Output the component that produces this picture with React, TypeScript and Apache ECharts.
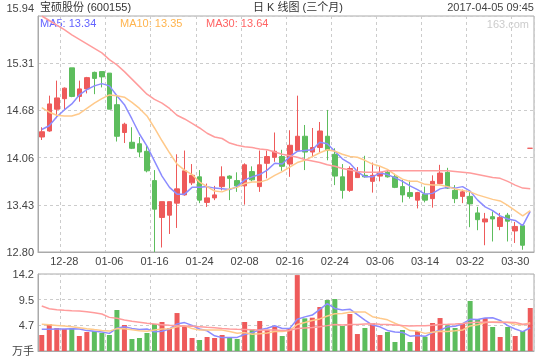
import React, { useEffect, useRef } from 'react';
import * as echarts from 'echarts';

const stockTitle = '宝硕股份 (600155)';
const chartTitle = '日 K 线图 (三个月)';
const timeStamp = '2017-04-05 09:45';
const watermark = '163.com';

const dates = [
  '12-23', '12-26', '12-27', '12-28', '12-29', '12-30', '01-03', '01-04', '01-05', '01-06',
  '01-09', '01-10', '01-11', '01-12', '01-13', '01-16', '01-17', '01-18', '01-19', '01-20',
  '01-23', '01-24', '01-25', '01-26', '02-03', '02-06', '02-07', '02-08', '02-09', '02-10',
  '02-13', '02-14', '02-15', '02-16', '02-17', '02-20', '02-21', '02-22', '02-23', '02-24',
  '02-27', '02-28', '03-01', '03-02', '03-03', '03-06', '03-07', '03-08', '03-09', '03-10',
  '03-13', '03-14', '03-15', '03-16', '03-17', '03-20', '03-21', '03-22', '03-23', '03-24',
  '03-27', '03-28', '03-29', '03-30', '03-31', '04-05',
];

const opens = [
  14.33, 14.41, 14.70, 14.84, 15.25, 14.87, 14.97, 15.19, 15.20, 15.18,
  14.76, 14.39, 14.26, 14.24, 14.14, 13.75, 13.26, 13.29, 13.45, 13.56,
  13.72, 13.80, 13.46, 13.52, 13.67, 13.81, 13.75, 13.68, 13.87, 13.67,
  13.98, 14.06, 14.07, 13.97, 14.15, 14.34, 14.13, 14.19, 14.34, 14.10,
  13.80, 13.62, 13.79, 13.82, 13.74, 13.81, 13.86, 13.80, 13.67, 13.59,
  13.49, 13.57, 13.51, 13.71, 13.86, 13.62, 13.54, 13.54, 13.32, 13.20,
  13.27, 13.14, 13.29, 13.08, 13.15, 14.18,
];
const closes = [
  14.40, 14.77, 14.85, 14.98, 14.87, 14.97, 15.12, 15.11, 15.13, 14.70,
  14.34, 14.50, 14.18, 14.13, 13.88, 13.37, 13.47, 13.47, 13.64, 13.88,
  13.82, 13.49, 13.52, 13.56, 13.80, 13.78, 13.68, 13.96, 13.76, 13.96,
  14.07, 14.14, 13.94, 14.22, 14.34, 14.13, 14.19, 14.41, 14.15, 13.81,
  13.62, 13.91, 13.86, 13.80, 13.82, 13.86, 13.80, 13.66, 13.56, 13.54,
  13.59, 13.49, 13.74, 13.85, 13.65, 13.51, 13.60, 13.44, 13.23, 13.24,
  13.24, 13.26, 13.21, 13.14, 12.89, 14.18,
];
const lows = [
  14.29, 14.40, 14.58, 14.70, 14.86, 14.80, 14.91, 14.90, 14.99, 14.70,
  14.27, 14.25, 14.17, 14.06, 13.86, 12.80, 12.86, 13.04, 13.12, 13.55,
  13.69, 13.45, 13.40, 13.49, 13.62, 13.49, 13.60, 13.43, 13.74, 13.60,
  13.78, 14.00, 13.88, 13.80, 14.15, 13.89, 14.06, 14.13, 14.02, 13.69,
  13.51, 13.60, 13.79, 13.79, 13.59, 13.74, 13.79, 13.65, 13.46, 13.51,
  13.38, 13.46, 13.39, 13.70, 13.64, 13.45, 13.45, 13.13, 13.09, 12.89,
  12.94, 13.09, 12.94, 12.92, 12.83, 14.18,
];
const highs = [
  14.46, 14.88, 15.08, 14.99, 15.25, 15.08, 15.13, 15.20, 15.20, 15.18,
  14.89, 14.52, 14.46, 14.33, 14.22, 13.89, 13.47, 13.47, 14.10, 14.15,
  13.97, 13.89, 13.71, 13.68, 13.94, 13.82, 13.86, 13.98, 13.94, 14.15,
  14.15, 14.39, 14.16, 14.42, 14.88, 14.49, 14.45, 14.53, 14.69, 14.18,
  13.97, 13.94, 13.93, 14.08, 13.99, 13.94, 13.89, 13.84, 13.76, 13.75,
  13.60, 13.67, 13.82, 13.96, 13.92, 13.69, 13.63, 13.60, 13.40, 13.32,
  13.34, 13.32, 13.32, 13.20, 13.16, 14.18,
];

const ma5 = [
  14.43, 14.48, 14.60, 14.69, 14.77, 14.89, 14.96, 15.01, 15.04, 15.01,
  14.88, 14.76, 14.57, 14.37, 14.21, 14.01, 13.81, 13.66, 13.57, 13.57,
  13.66, 13.66, 13.67, 13.65, 13.64, 13.63, 13.67, 13.76, 13.80, 13.83,
  13.89, 13.98, 13.97, 14.07, 14.14, 14.15, 14.16, 14.26, 14.24, 14.14,
  14.04, 13.98, 13.87, 13.80, 13.80, 13.85, 13.83, 13.79, 13.74, 13.68,
  13.63, 13.57, 13.58, 13.64, 13.66, 13.65, 13.67, 13.61, 13.49, 13.40,
  13.35, 13.28, 13.24, 13.22, 13.15, 13.34,
];
const ma10 = [
  14.72, 14.66, 14.62, 14.61, 14.61, 14.64, 14.71, 14.78, 14.84, 14.89,
  14.88, 14.86, 14.79, 14.71, 14.61, 14.45, 14.28, 14.12, 13.97, 13.89,
  13.83, 13.73, 13.67, 13.61, 13.60, 13.64, 13.66, 13.71, 13.73, 13.73,
  13.76, 13.82, 13.87, 13.93, 13.99, 14.02, 14.07, 14.12, 14.16, 14.14,
  14.10, 14.07, 14.06, 14.02, 13.97, 13.94, 13.90, 13.83, 13.77, 13.74,
  13.74, 13.70, 13.69, 13.69, 13.67, 13.64, 13.62, 13.60, 13.56, 13.53,
  13.50, 13.48, 13.42, 13.35, 13.28, 13.35,
];
const ma30 = [
  15.94, 15.88, 15.82, 15.76, 15.69, 15.63, 15.57, 15.51, 15.45, 15.36,
  15.29, 15.20, 15.10, 15.00, 14.90, 14.83, 14.78, 14.71, 14.62, 14.57,
  14.51, 14.45, 14.38, 14.33, 14.31, 14.25, 14.22, 14.20, 14.19, 14.17,
  14.16, 14.13, 14.10, 14.08, 14.06, 14.03, 14.01, 13.99, 13.96, 13.94,
  13.91, 13.89, 13.87, 13.86, 13.86, 13.86, 13.88, 13.88, 13.88, 13.88,
  13.88, 13.88, 13.88, 13.88, 13.88, 13.87, 13.86, 13.85, 13.83, 13.81,
  13.79, 13.78, 13.74, 13.69, 13.65, 13.64,
];

const volumes = [
  2.95, 4.98, 4.24, 4.06, 4.24, 2.77, 3.50, 3.69, 3.32, 2.95,
  7.56, 4.80, 2.21, 2.40, 3.32, 4.98, 5.35, 4.24, 7.00, 4.61,
  2.40, 2.03, 2.58, 2.40, 2.95, 2.40, 2.21, 5.35, 4.06, 5.53,
  3.87, 4.49, 2.77, 4.18, 14.00, 6.02, 6.14, 8.11, 9.40, 9.59,
  4.61, 6.82, 3.13, 4.24, 5.16, 2.95, 3.50, 1.66, 3.87, 1.66,
  3.69, 2.64, 5.16, 6.08, 4.73, 4.24, 4.98, 9.22, 5.90, 6.08,
  4.43, 2.58, 4.43, 2.77, 3.69, 7.93,
];
const volMa5 = [
  4.00, 4.02, 4.05, 4.06, 4.09, 4.06, 3.76, 3.65, 3.50, 3.25,
  4.20, 4.46, 4.17, 3.98, 4.06, 3.54, 3.65, 4.06, 4.98, 5.24,
  4.72, 4.06, 3.72, 2.80, 2.47, 2.47, 2.51, 3.06, 3.39, 3.91,
  4.20, 4.66, 4.14, 4.17, 5.86, 6.29, 6.62, 7.69, 8.73, 7.85,
  7.57, 7.71, 6.71, 5.68, 4.79, 4.46, 3.80, 3.50, 3.43, 2.73,
  2.88, 2.70, 3.40, 3.85, 4.46, 4.57, 5.04, 5.85, 5.81, 6.08,
  6.12, 5.64, 4.68, 4.06, 3.58, 4.28,
];
const volMa10 = [
  4.92, 4.82, 4.72, 4.60, 4.48, 4.30, 4.12, 3.95, 3.80, 3.67,
  4.13, 4.11, 3.91, 3.74, 3.65, 3.87, 4.06, 4.11, 4.48, 4.65,
  4.13, 3.85, 3.89, 3.89, 3.85, 3.60, 3.28, 3.39, 3.10, 3.19,
  3.34, 3.58, 3.60, 3.78, 4.89, 5.25, 5.64, 5.92, 6.45, 6.86,
  6.93, 7.16, 7.20, 7.21, 6.32, 6.02, 5.75, 5.11, 4.55, 3.76,
  3.67, 3.25, 3.45, 3.64, 3.59, 3.72, 3.87, 4.63, 4.83, 5.27,
  5.35, 5.34, 5.27, 4.94, 4.83, 5.20,
];
const volMa30 = [
  8.30, 7.80, 7.62, 7.50, 7.43, 7.37, 7.25, 7.06, 6.82, 6.20,
  6.02, 5.72, 5.47, 5.29, 5.10, 4.98, 4.86, 4.73, 4.67, 4.61,
  4.55, 4.49, 4.37, 4.30, 4.15, 4.08, 4.02, 3.97, 3.92, 3.84,
  3.87, 3.85, 3.80, 3.81, 4.13, 4.24, 4.33, 4.47, 4.68, 4.90,
  4.80, 4.87, 4.90, 4.96, 5.02, 4.95, 4.89, 4.81, 4.70, 4.60,
  4.65, 4.67, 4.75, 4.87, 4.93, 5.00, 5.09, 5.22, 5.28, 5.30,
  5.32, 5.25, 5.31, 5.26, 4.92, 4.98,
];

const priceMin = 12.8;
const priceMax = 15.94;
const priceSplits = 5;
const volMax = 14.2;
const volSplits = 3;
const volUnit = '万手';

const UP = '#ee5a5a';
const DOWN = '#5dbd5d';
const C_MA5 = '#8c8cff';
const C_MA10 = '#ffc98a';
const C_MA30 = '#ff9c9c';
const FONT = '"Liberation Sans", Arial, "Noto Sans CJK SC", sans-serif';

export default function App() {
  const ref = useRef<HTMLDivElement>(null);
  useEffect(() => {
    const chart = echarts.init(ref.current!, null, { renderer: 'svg' });
    const candle = dates.map((_, i) => [opens[i], closes[i], lows[i], highs[i]]);
    const volData = volumes.map((v, i) => {
      const prev = i > 0 ? closes[i - 1] : opens[i];
      const up = closes[i] > opens[i] || (closes[i] === opens[i] && closes[i] >= prev);
      return { value: v, itemStyle: { color: up ? UP : DOWN } };
    });
    const showIdx = (i: number) => i >= 3 && (i - 3) % 6 === 0;
    const dashed = { color: '#cccccc', type: [3, 3] as any, width: 1 };
    const axisLine = { show: true, lineStyle: { color: '#aaaaaa' } };
    const last = (a: number[]) => a[a.length - 1].toFixed(2);
    const lineSeries = (name: string, data: number[], color: string, idx: number) => ({
      name,
      type: 'line',
      data,
      xAxisIndex: idx,
      yAxisIndex: idx,
      symbol: 'none',
      silent: true,
      lineStyle: { color, width: 1.5 },
      itemStyle: { color },
    });
    const txt = (text: string, x: number, y: number, fill: string, align = 'left') => ({
      type: 'text',
      x,
      y,
      silent: true,
      style: { text, fill, font: `11px ${FONT}`, textAlign: align, textVerticalAlign: 'middle' },
    });

    chart.setOption({
      animation: false,
      textStyle: { fontFamily: FONT },
      grid: [
        { left: 38, right: 6, top: 16, height: 236, show: true, borderColor: '#aaaaaa', borderWidth: 1 },
        { left: 38, right: 6, top: 274, height: 77, show: true, borderColor: '#aaaaaa', borderWidth: 1 },
      ],
      xAxis: [
        {
          type: 'category', gridIndex: 0, data: dates, boundaryGap: true,
          axisLine, axisTick: { show: false },
          axisLabel: { interval: (i: number) => showIdx(i), color: '#444', fontSize: 11, margin: 3, fontFamily: FONT },
          splitLine: { show: true, interval: (i: number) => showIdx(i), lineStyle: dashed },
        },
        {
          type: 'category', gridIndex: 1, data: dates, boundaryGap: true,
          axisLine, axisTick: { show: false }, axisLabel: { show: false },
          splitLine: { show: true, interval: (i: number) => showIdx(i), lineStyle: dashed },
        },
      ],
      yAxis: [
        {
          type: 'value', gridIndex: 0, min: priceMin, max: priceMax,
          interval: (priceMax - priceMin) / priceSplits,
          axisLine, axisTick: { show: false },
          axisLabel: {
            color: '#444', fontSize: 11, margin: 4, fontFamily: FONT,
            formatter: (v: number) => {
              const s = v.toFixed(2);
              return Math.abs(v - priceMax) < 1e-6 ? `{top|${s}}` : s;
            },
            rich: { top: { padding: [0, 0, 17, 0], color: '#444', fontSize: 11, fontFamily: FONT } },
          },
          splitLine: { show: true, lineStyle: dashed },
        },
        {
          type: 'value', gridIndex: 1, min: 0, max: volMax, interval: volMax / volSplits,
          axisLine, axisTick: { show: false },
          axisLabel: {
            color: '#444', fontSize: 11, margin: 4, fontFamily: FONT,
            formatter: (v: number) => (v === 0 ? volUnit : v.toFixed(1)),
          },
          splitLine: { show: true, lineStyle: dashed },
        },
      ],
      series: [
        {
          type: 'candlestick', name: 'K', data: candle, xAxisIndex: 0, yAxisIndex: 0,
          barWidth: 5, silent: true,
          itemStyle: { color: UP, color0: DOWN, borderColor: UP, borderColor0: DOWN, borderWidth: 1 },
        },
        lineSeries('MA5', ma5, C_MA5, 0),
        lineSeries('MA10', ma10, C_MA10, 0),
        lineSeries('MA30', ma30, C_MA30, 0),
        { type: 'bar', name: 'VOL', data: volData, xAxisIndex: 1, yAxisIndex: 1, barWidth: 5, silent: true },
        lineSeries('VMA5', volMa5, C_MA5, 1),
        lineSeries('VMA10', volMa10, C_MA10, 1),
        lineSeries('VMA30', volMa30, C_MA30, 1),
      ],
      graphic: [
        txt(stockTitle, 40, 7, '#333'),
        txt(chartTitle, 253, 7, '#333'),
        txt(timeStamp, 534, 7, '#444', 'right'),
        txt(`MA5: ${last(ma5)}`, 40, 23, '#6464ff'),
        txt(`MA10: ${last(ma10)}`, 120, 23, '#ffb44e'),
        txt(`MA30: ${last(ma30)}`, 206, 23, '#ff6464'),
        txt(watermark, 529, 24, '#cccccc', 'right'),
      ],
    });
    return () => chart.dispose();
  }, []);
  return <div ref={ref} style={{ position: 'fixed', left: 0, top: 0, width: 540, height: 360 }} />;
}
